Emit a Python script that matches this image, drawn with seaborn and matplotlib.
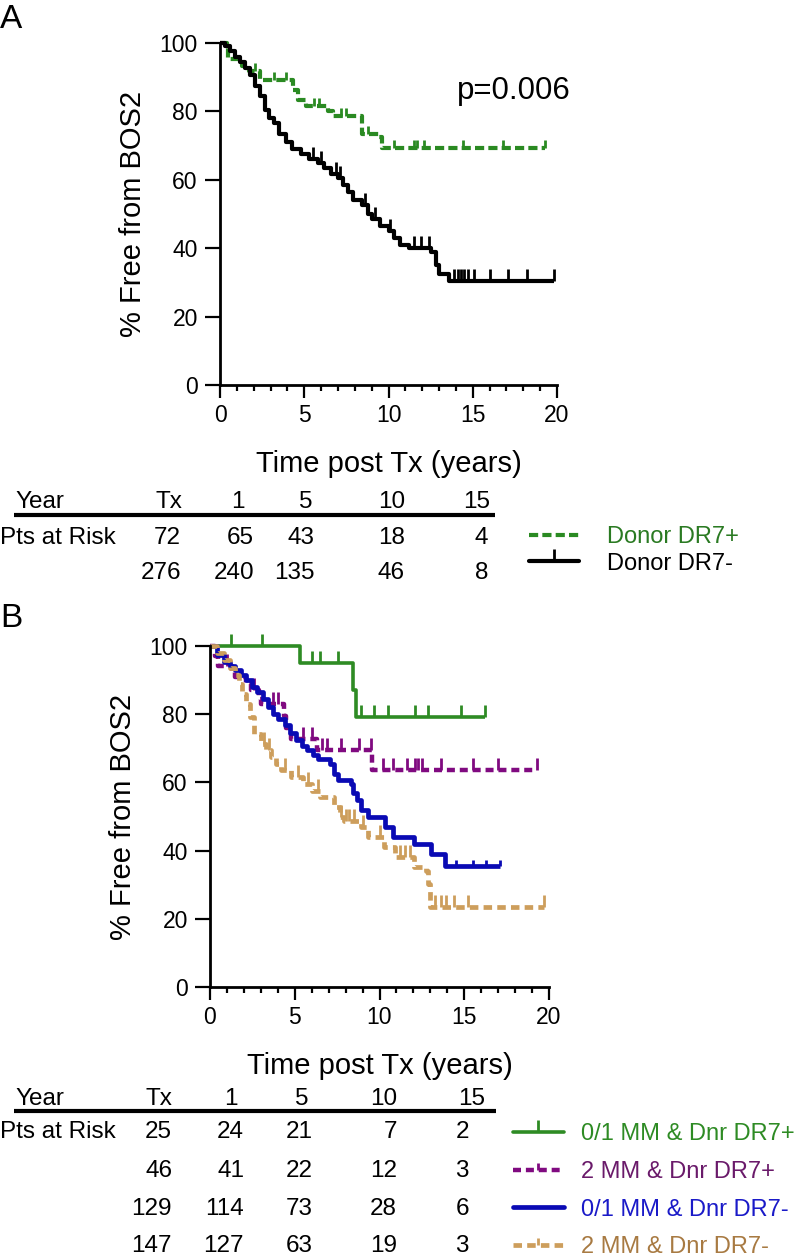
import numpy as np
import pandas as pd
import matplotlib
matplotlib.use("Agg")
import matplotlib.pyplot as plt
import matplotlib.font_manager as fm
from matplotlib.lines import Line2D
from matplotlib.ticker import MultipleLocator
import seaborn as sns

# ---------------- data: panel A ----------------
a_pos_t = [0, 0.4, 0.5, 1.2, 1.3, 1.75, 2.4, 4.35, 4.6, 5.1, 6.4, 6.7, 8.45, 9.45, 9.6, 19.3]
a_pos_s = [100, 98.7, 95.3, 94.6, 93.3, 91.8, 89.2, 86.2, 83.4, 81.6, 80.1, 78.6, 73.4, 72.6, 69.2, 69.2]
a_pos_cens = [2.1, 3.2, 3.9, 5.6, 5.9, 7.2, 7.5, 8.8, 10.3, 11.5, 11.7, 12.1, 14.4, 16.8, 19.3]

a_neg_t = [0, 0.3, 0.6, 0.9, 1.2, 1.5, 1.8, 2.1, 2.4, 2.65, 2.9, 3.2, 3.5, 3.9, 4.3, 4.8,
           5.3, 5.8, 6.2, 6.6, 7.0, 7.3, 7.6, 7.9, 8.4, 8.8, 9.0, 9.5, 10.0, 10.3, 10.7,
           11.2, 12.5, 12.8, 13.0, 13.6, 19.8]
a_neg_s = [100, 99, 97.6, 96, 94.5, 92.8, 90.5, 87.5, 84.5, 80.5, 78, 76.5, 73.5, 71, 69, 67.5,
           66, 64.8, 63.5, 61.8, 60.5, 58.5, 56.5, 54, 52.5, 50, 48.5, 46.5, 45, 43, 41,
           40, 38.8, 35, 32.4, 30.4, 30.4]
a_neg_cens = [5.5, 6.0, 6.9, 7.1, 8.6, 9.2, 10.1, 11.5, 11.9, 12.4, 13.9, 14.1, 14.3,
              14.5, 14.7, 15.1, 16.0, 17.1, 18.2, 19.8]

a_labels = ["Donor DR7+", "Donor DR7-"]
a_header = ["Tx", "1", "5", "10", "15"]
a_risk = [[72, 65, 43, 18, 4],
          [276, 240, 135, 46, 8]]
p_value = "p=0.006"

# ---------------- data: panel B ----------------
b_g_t = [0, 5.3, 8.45, 8.6, 16.2]
b_g_s = [100, 95.1, 87, 79.2, 79.2]
b_g_cens = [1.24, 3.04, 6.0, 6.5, 7.55, 8.9, 9.7, 10.5, 12.1, 12.85, 14.8, 16.2]

b_p_t = [0, 0.3, 0.45, 1.3, 1.5, 2.1, 2.4, 2.9, 3.0, 4.35, 4.5, 4.8, 6.3, 9.55, 19.3]
b_p_s = [100, 97, 94, 92.5, 91, 89, 87, 84.5, 83, 79.6, 76, 72.8, 69.4, 63.5, 63.5]
b_p_cens = [1.0, 2.6, 3.7, 4.0, 5.5, 6.0, 6.6, 6.9, 7.7, 8.8, 9.5, 10.2, 10.8, 11.6,
            12.1, 12.3, 12.5, 13.6, 15.5, 17.0, 19.3]

b_b_t = [0, 0.4, 0.8, 1.2, 1.5, 1.8, 2.1, 2.5, 2.8, 3.1, 3.4, 3.7, 4.0, 4.4, 4.7, 5.05,
         5.4, 5.75, 6.1, 6.4, 7.1, 7.3, 7.55, 8.3, 8.45, 8.65, 8.9, 9.35, 10.35, 10.8,
         12.05, 13.05, 13.85, 17.1]
b_b_s = [100, 97.5, 95.4, 94, 93, 91.5, 90, 88, 86.5, 84.5, 82, 80, 78.5, 76.8, 74.5, 72.4,
         70.8, 69.4, 68, 67, 65.5, 62.5, 60.6, 59.6, 57, 54.7, 51.8, 49.8, 46.9, 43.9,
         42, 39, 35.6, 35.6]
b_b_cens = [14.5, 15.5, 16.3, 17.1]

b_t_t = [0, 0.4, 0.8, 1.2, 1.5, 1.7, 1.9, 2.1, 2.35, 2.6, 3.0, 3.3, 3.6, 3.9, 4.2, 4.8,
         5.5, 6.0, 6.5, 7.3, 7.65, 7.9, 8.9, 9.35, 10.25, 10.9, 12.05, 12.75, 12.85, 12.95, 19.7]
b_t_s = [100, 98, 95.9, 93.5, 91.5, 89, 86, 83, 79.2, 74.3, 71.4, 69.5, 67.5, 65.5, 63.5, 61.6,
         59.6, 57.6, 55.7, 52.7, 49.8, 48.8, 46.9, 43.9, 41, 38, 35.1, 34.1, 30.2, 23.6, 23.6]
b_t_cens = [3.2, 3.5, 4.4, 5.2, 5.8, 6.4, 7.7, 8.0, 8.2, 8.5, 9.0, 10.0, 11.2, 11.5, 11.8,
            13.3, 13.6, 13.9, 14.4, 15.2, 19.7]

b_labels = ["0/1 MM & Dnr DR7+", "2 MM & Dnr DR7+", "0/1 MM & Dnr DR7-", "2 MM & Dnr DR7-"]
b_header = ["Tx", "1", "5", "10", "15"]
b_risk = [[25, 24, 21, 7, 2],
          [46, 41, 22, 12, 3],
          [129, 114, 73, 28, 6],
          [147, 127, 63, 19, 3]]

# ---------------- style ----------------
sns.set_theme(style="ticks")
plt.rcParams["font.family"] = ["Liberation Sans", "DejaVu Sans"]
plt.rcParams["xtick.color"] = "black"
plt.rcParams["ytick.color"] = "black"
plt.rcParams["axes.edgecolor"] = "black"
plt.rcParams["text.color"] = "black"
plt.rcParams["axes.labelcolor"] = "black"

names = {f.name for f in fm.fontManager.ttflist}
table_font = "Liberation Sans Narrow" if "Liberation Sans Narrow" in names else "Liberation Sans"
table_size = 20 if table_font == "Liberation Sans Narrow" else 17.5

W, H = 800, 1258
fig = plt.figure(figsize=(W / 100, H / 100), dpi=100)


def axes_px(left, top, right, bottom):
    return fig.add_axes([left / W, 1 - bottom / H, (right - left) / W, (bottom - top) / H])


axA = axes_px(220, 43, 557, 385)
axB = axes_px(210, 646, 549, 987)
ov = fig.add_axes([0, 0, 1, 1], zorder=-1)
ov.set_xlim(0, W)
ov.set_ylim(H, 0)
ov.axis("off")


def surv_at(t, st, ss):
    idx = np.searchsorted(np.asarray(st), np.asarray(t), side="right") - 1
    return np.asarray(ss)[idx]


def draw_km(ax, t, s, cens, color, lw, dash=None, ms=8, mew=2):
    df = pd.DataFrame({"t": t, "s": s})
    kw = {}
    if dash is not None:
        kw["linestyle"] = (0, dash)
    sns.lineplot(data=df, x="t", y="s", ax=ax, color=color, linewidth=lw,
                 drawstyle="steps-post", estimator=None, sort=False,
                 legend=False, clip_on=False, solid_capstyle="butt",
                 dash_capstyle="butt", **kw)
    ax.plot(cens, surv_at(cens, t, s), ls="none", marker=2, ms=ms, mew=mew,
            color=color, clip_on=False)


GREEN_A = "#2a8a22"
BLACK = "#000000"
GREEN_B = "#2e8b24"
PURPLE = "#800a80"
BLUE = "#0a0ab4"
TAN = "#cd9e5c"
DASH_A = (2.2, 1.0)
DASH_B = (1.8, 1.1)

draw_km(axA, a_pos_t, a_pos_s, a_pos_cens, GREEN_A, 3, dash=DASH_A, ms=6)
draw_km(axA, a_neg_t, a_neg_s, a_neg_cens, BLACK, 3, ms=9)

draw_km(axB, b_g_t, b_g_s, b_g_cens, GREEN_B, 2.6, ms=9)
draw_km(axB, b_p_t, b_p_s, b_p_cens, PURPLE, 3.2, dash=DASH_B, ms=9)
draw_km(axB, b_b_t, b_b_s, b_b_cens, BLUE, 3.4, ms=4)
draw_km(axB, b_t_t, b_t_s, b_t_cens, TAN, 3.4, dash=DASH_B, ms=9)

for ax in (axA, axB):
    ax.set_xlim(0, 20)
    ax.set_ylim(0, 100)
    sns.despine(ax=ax)
    for sp in ("left", "bottom"):
        ax.spines[sp].set_linewidth(2)
    ax.set_xticks([0, 5, 10, 15, 20])
    ax.xaxis.set_minor_locator(MultipleLocator(1))
    ax.set_yticks(range(0, 101, 20))
    ax.tick_params(axis="y", length=11, width=1.6, pad=5, labelsize=16.5)
    ax.tick_params(axis="x", which="major", length=9, width=1.6, pad=5, labelsize=16.5)
    ax.tick_params(axis="x", which="minor", length=4.5, width=1.6)
    ax.set_xlabel("Time post Tx (years)", fontsize=21, labelpad=16)
    ax.set_ylabel("% Free from BOS2", fontsize=21, labelpad=9)
    ax.patch.set_alpha(0)

axA.text(17.45, 86, p_value, fontsize=22.5, ha="center", va="center")

# panel letters
ov.text(0, 28, "A", fontsize=24, ha="left", va="baseline")
ov.text(0, 627, "B", fontsize=24, ha="left", va="baseline")

# ---------------- risk tables ----------------
tkw = dict(family=[table_font, "DejaVu Sans"], fontsize=table_size, va="baseline")

# panel A table
a_hdr_x = [182, 245, 313, 405, 490]
a_val_x = [181, 254, 315, 405, 488]
ov.text(15, 508, "Year", ha="left", **tkw)
for x, h in zip(a_hdr_x, a_header):
    ov.text(x, 508, h, ha="right", **tkw)
ov.plot([14, 495], [515, 515], color="black", lw=3, solid_capstyle="butt")
ov.text(0, 544, "Pts at Risk", ha="left", **tkw)
for row, yb in zip(a_risk, [544, 579]):
    for x, v in zip(a_val_x, row):
        ov.text(x, yb, str(v), ha="right", **tkw)

# panel B table
b_hdr_x = [172, 238, 308, 397, 485]
b_val_x = [172, 244, 313, 397, 469]
ov.text(15, 1105, "Year", ha="left", **tkw)
for x, h in zip(b_hdr_x, b_header):
    ov.text(x, 1105, h, ha="right", **tkw)
ov.plot([14, 496], [1111, 1111], color="black", lw=3, solid_capstyle="butt")
ov.text(0, 1138, "Pts at Risk", ha="left", **tkw)
for row, yb in zip(b_risk, [1138, 1177, 1215, 1252]):
    for x, v in zip(b_val_x, row):
        ov.text(x, yb, str(v), ha="right", **tkw)

# ---------------- legends ----------------
hA = [Line2D([], [], color=GREEN_A, lw=3, linestyle=(0, DASH_A)),
      Line2D([], [], color=BLACK, lw=3, marker=2, ms=9, mew=2)]
legA = fig.legend(hA, a_labels, loc="upper left", bbox_to_anchor=(529 / W, 1 - 526 / H),
                  frameon=False, fontsize=17, handlelength=2.1, handletextpad=1.2,
                  labelspacing=0.2, borderpad=0, borderaxespad=0, numpoints=1)
for txt, c in zip(legA.get_texts(), ["#2a7a22", "black"]):
    txt.set_color(c)

hB = [Line2D([], [], color=GREEN_B, lw=2.6, marker=2, ms=9, mew=2),
      Line2D([], [], color=PURPLE, lw=3.2, linestyle=(0, DASH_B), marker=2, ms=5, mew=2),
      Line2D([], [], color=BLUE, lw=3.4),
      Line2D([], [], color=TAN, lw=3.4, linestyle=(0, DASH_B), marker=2, ms=5, mew=2)]
legB = fig.legend(hB, b_labels, loc="upper left", bbox_to_anchor=(513 / W, 1 - 1123 / H),
                  frameon=False, fontsize=17, handlelength=2.15, handletextpad=0.75,
                  labelspacing=0.67, borderpad=0, borderaxespad=0, numpoints=1)
for txt, c in zip(legB.get_texts(), ["#2e8b24", "#6a1a6a", "#1a1ac8", "#a87a42"]):
    txt.set_color(c)

fig.savefig("out.png", dpi=100)
